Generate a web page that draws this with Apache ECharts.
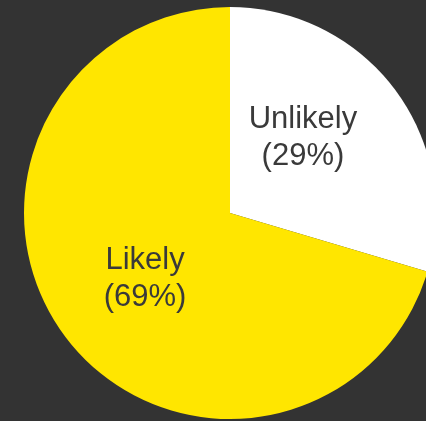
<!DOCTYPE html>
<html>
<head>
<meta charset="utf-8">
<script src="https://cdn.jsdelivr.net/npm/echarts@6/dist/echarts.min.js"></script>
<style>
html,body{margin:0;padding:0;background:#333333;}
#chart{width:426px;height:421px;}
</style>
</head>
<body>
<div id="chart"></div>
<script>
const categories = ['Unlikely', 'Likely'];
const values = [29, 69];
const colors = ['#FFFFFF', '#FFE600'];

const chart = echarts.init(document.getElementById('chart'), null, {renderer: 'canvas'});
const offsets = [[-12, -12], [0, 3]];
chart.setOption({
  backgroundColor: '#333333',
  animation: false,
  series: [{
    type: 'pie',
    center: [230, 213],
    radius: [0, 206],
    startAngle: 90,
    clockwise: true,
    avoidLabelOverlap: false,
    data: categories.map((c, i) => ({
      name: c,
      value: values[i],
      itemStyle: {color: colors[i]},
      label: {offset: offsets[i]}
    })),
    label: {
      show: true,
      position: 'inside',
      formatter: p => p.name + '\n(' + p.value + '%)',
      color: '#3a3a3a',
      fontFamily: 'Liberation Sans, Arial, sans-serif',
      fontSize: 31,
      lineHeight: 37,
      align: 'center'
    },
    labelLine: {show: false},
    emphasis: {disabled: true}
  }]
});
</script>
</body>
</html>
